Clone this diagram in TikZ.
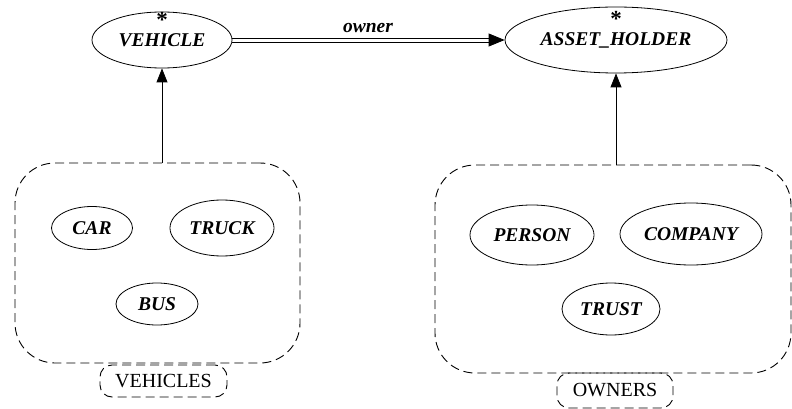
\documentclass[tikz,border=0pt]{standalone}
\usepackage{fontspec}
\setmainfont{Liberation Serif}
\usetikzlibrary{arrows.meta,shapes.geometric,calc}
\begin{document}
\begin{tikzpicture}[x=1pt,y=-1pt,
  cls/.style={ellipse,draw,line width=0.8pt,inner sep=0pt,
    font=\fontsize{19.5}{22}\selectfont\bfseries\itshape},
  star/.style={anchor=base,inner sep=0pt,font=\fontsize{23}{24}\selectfont\bfseries},
  cluster/.style={draw,dash pattern=on 9pt off 5pt,rounded corners=40pt,line width=0.9pt,
    inner sep=0pt},
  clabel/.style={draw,dash pattern=on 9pt off 5pt,rounded corners=12pt,line width=0.9pt,
    inner sep=0pt,font=\fontsize{20}{22}\selectfont},
  inherit/.style={line width=0.8pt,-{Triangle[length=14pt,width=11pt]}},
  rail/.style={line width=0.8pt},
  tag/.style={anchor=base,inner sep=0pt,font=\fontsize{19.5}{22}\selectfont\bfseries\itshape},
]
\useasboundingbox (0,0) rectangle (792,409);

% deferred classes
\node[cls,minimum width=140pt,minimum height=56pt] (veh) at (162,40) {VEHICLE};
\node[star] (vehstar) at (162,27.5) {*};
\node[cls,minimum width=222pt,minimum height=66pt] (ah) at (616,40) {ASSET\_HOLDER};
\node[star] (ahstar) at (616,26.5) {*};

% clusters
\node[cluster,minimum width=285pt,minimum height=200pt] (vehicles) at (157.5,263) {};
\node[clabel,minimum width=127pt,minimum height=32pt] (vehlbl) at (163.5,381) {VEHICLES};
\node[cluster,minimum width=356pt,minimum height=208pt] (owners) at (613,269) {};
\node[clabel,minimum width=116pt,minimum height=35pt] (ownlbl) at (615,390.5) {OWNERS};

% effective classes
\node[cls,minimum width=81pt,minimum height=43pt] (car) at (92,228) {CAR};
\node[cls,minimum width=104pt,minimum height=56pt] (truck) at (222,228) {TRUCK};
\node[cls,minimum width=82pt,minimum height=42pt] (bus) at (157,304) {BUS};
\node[cls,minimum width=124pt,minimum height=60pt] (person) at (532,235) {PERSON};
\node[cls,minimum width=142pt,minimum height=62pt] (company) at (691,234) {COMPANY};
\node[cls,minimum width=98pt,minimum height=52pt] (trust) at (611,309) {TRUST};

% inheritance
\draw[inherit] (vehicles.north -| veh.south) -- (veh.south);
\draw[inherit] (owners.north -| ah.south) -- (ah.south);

% client relation: two rails ending at the tip's base
\coordinate (tipbase) at ($(ah.west)+(-16,0)$);
\draw[rail] ([yshift=2pt]veh.east) -- ([yshift=2pt]tipbase);
\draw[rail] ([yshift=-2pt]veh.east) -- ([yshift=-2pt]tipbase);
\draw[line width=0.8pt,-{Triangle[length=16pt,width=13pt]}] (tipbase) -- (ah.west);
\node[tag] (own) at (368,33) {owner};
\end{tikzpicture}
\end{document}
